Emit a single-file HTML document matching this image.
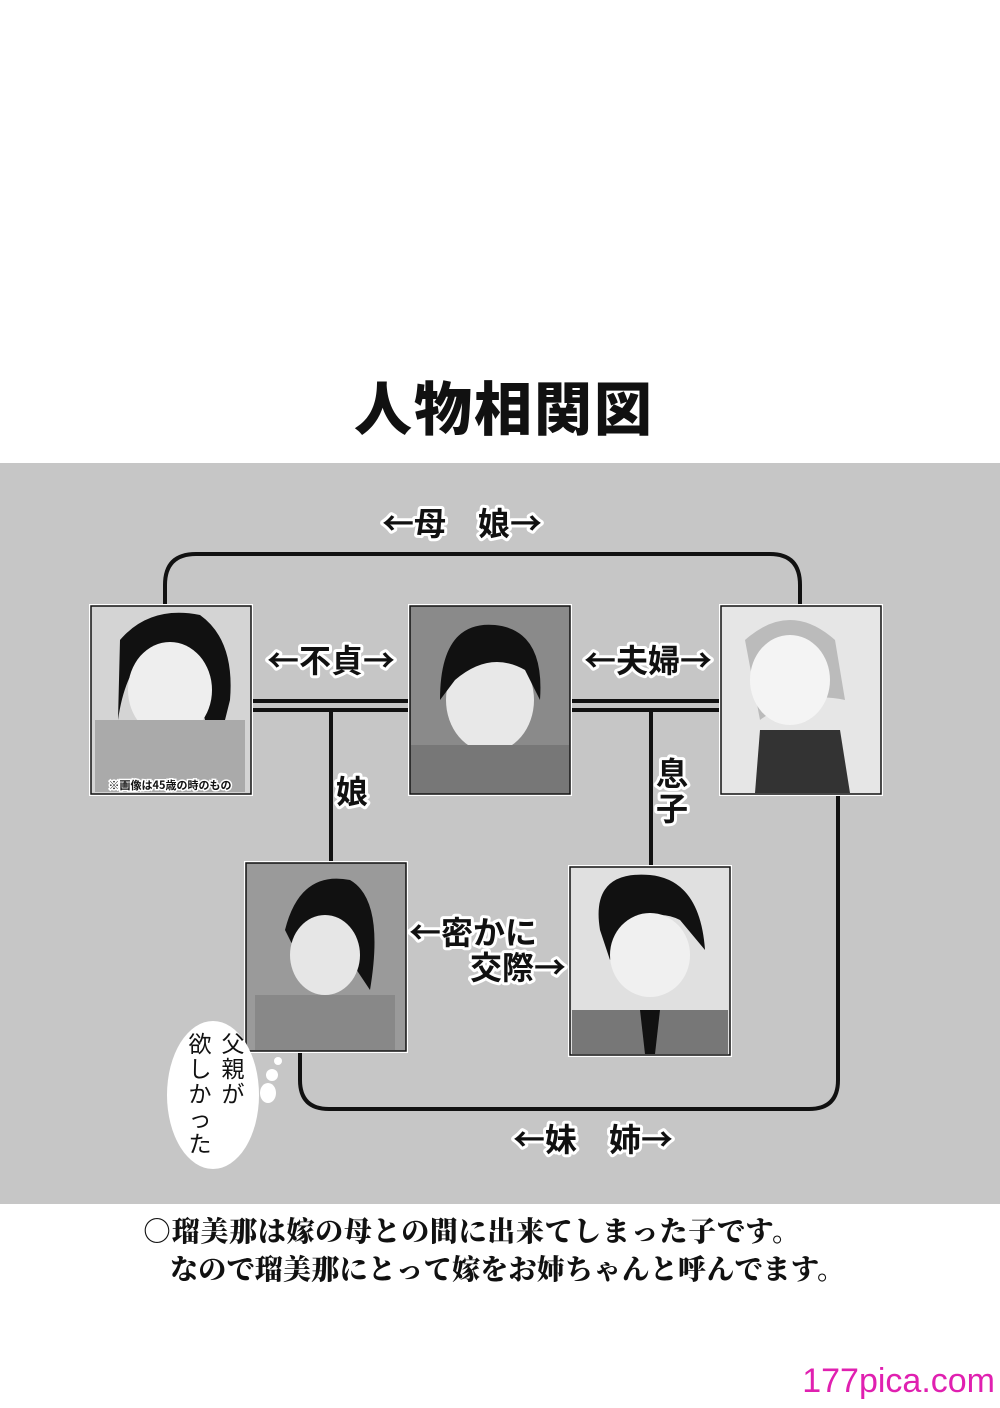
<!DOCTYPE html>
<html><head><meta charset="utf-8"><style>
html,body{margin:0;padding:0;background:#fff;}
svg{display:block;}
.lbl{font-family:"Noto Sans CJK JP","WenQuanYi Zen Hei",sans-serif;font-size:32px;font-weight:700;fill:#111;stroke:#fff;stroke-width:6px;paint-order:stroke;stroke-linejoin:round;}
</style></head><body>
<svg width="1000" height="1408" viewBox="0 0 1000 1408" xmlns="http://www.w3.org/2000/svg">
<rect width="1000" height="1408" fill="#fff"/>
<text x="504" y="430" text-anchor="middle" font-family="Noto Sans CJK JP,sans-serif" font-weight="900" font-size="58" fill="#111" letter-spacing="2">人物相関図</text>
<rect x="0" y="463" width="1000" height="741" fill="#c6c6c6"/>
<g fill="none" stroke="#111" stroke-width="4">
<path d="M165 605 V585 Q165 554 196 554 H770 Q800 554 800 585 V605"/>
<path d="M252 701 H409 M252 710 H409 M571 701 H720 M571 710 H720"/>
<path d="M331 710 V862 M651 710 V866"/>
<path d="M300 1052 V1080 Q300 1109 329 1109 H809 Q838 1109 838 1080 V795"/>
</g>
<g stroke="#fff" stroke-width="2">
<rect x="90" y="605" width="162" height="190" fill="#d4d4d4"/>
<rect x="409" y="605" width="162" height="190" fill="#8a8a8a"/>
<rect x="720" y="605" width="162" height="190" fill="#e6e6e6"/>
<rect x="245" y="862" width="162" height="190" fill="#9a9a9a"/>
<rect x="569" y="866" width="162" height="190" fill="#e0e0e0"/>
</g>
<g stroke="#111" stroke-width="1.5" fill="none">
<rect x="91" y="606" width="160" height="188"/><rect x="410" y="606" width="160" height="188"/><rect x="721" y="606" width="160" height="188"/><rect x="246" y="863" width="160" height="188"/><rect x="570" y="867" width="160" height="188"/>
</g>
<path d="M120 640 Q150 605 200 615 Q235 640 230 700 L215 760 L200 700 Q190 650 150 650 Q125 670 118 720 Z" fill="#111"/>
<ellipse cx="170" cy="690" rx="42" ry="48" fill="#eee"/>
<rect x="95" y="720" width="150" height="72" fill="#aaa"/>
<text x="170" y="789" text-anchor="middle" font-family="Noto Sans CJK JP,sans-serif" font-size="11" font-weight="700" fill="#111" stroke="#fff" stroke-width="3" paint-order="stroke">※画像は45歳の時のもの</text>
<ellipse cx="490" cy="700" rx="44" ry="52" fill="#e8e8e8"/>
<path d="M440 700 Q440 620 495 625 Q545 630 540 700 L525 670 Q490 650 455 680 Z" fill="#111"/>
<rect x="411" y="745" width="158" height="48" fill="#777"/>
<path d="M745 640 Q790 600 835 640 L845 700 Q800 690 760 720 Z" fill="#bbb"/>
<ellipse cx="790" cy="680" rx="40" ry="45" fill="#f4f4f4"/>
<path d="M760 730 L840 730 L850 793 L755 793 Z" fill="#333"/>
<path d="M285 930 Q300 870 350 880 Q385 900 370 990 L350 960 Q320 920 300 960 Z" fill="#111"/>
<ellipse cx="325" cy="955" rx="35" ry="40" fill="#e6e6e6"/>
<rect x="255" y="995" width="140" height="55" fill="#888"/>
<path d="M600 930 Q590 870 650 875 Q700 880 705 950 L680 920 Q640 900 610 960 Z" fill="#111"/>
<ellipse cx="650" cy="955" rx="40" ry="42" fill="#f0f0f0"/>
<path d="M572 1010 L728 1010 L728 1054 L572 1054 Z" fill="#777"/>
<path d="M640 1010 L660 1010 L655 1054 L645 1054 Z" fill="#111"/>
<text class="lbl" x="462" y="535" text-anchor="middle">←母　娘→</text>
<text class="lbl" x="331" y="672" text-anchor="middle">←不貞→</text>
<text class="lbl" x="648" y="672" text-anchor="middle">←夫婦→</text>
<text class="lbl" x="352" y="803" text-anchor="middle">娘</text>
<text class="lbl" x="672" y="785" text-anchor="middle">息</text>
<text class="lbl" x="672" y="820" text-anchor="middle">子</text>
<text class="lbl" x="409" y="944">←密かに</text>
<text class="lbl" x="470" y="979">交際→</text>
<text class="lbl" x="593" y="1151" text-anchor="middle">←妹　姉→</text>
<ellipse cx="213" cy="1095" rx="46" ry="74" fill="#fff"/>
<circle cx="278" cy="1061" r="4" fill="#fff"/><circle cx="272" cy="1075" r="6" fill="#fff"/><ellipse cx="268" cy="1093" rx="8" ry="10" fill="#fff"/>
<g font-family="Noto Sans CJK JP,sans-serif" font-size="23" fill="#111" text-anchor="middle">
<text x="233" y="1052">父</text><text x="233" y="1077">親</text><text x="233" y="1102">が</text>
<text x="200" y="1052">欲</text><text x="200" y="1077">し</text><text x="200" y="1102">か</text><text x="200" y="1127">っ</text><text x="200" y="1152">た</text>
</g>
<g font-family="Noto Serif CJK SC,Noto Sans CJK JP,serif" font-weight="900" font-size="28" fill="#111">
<text x="143" y="1241" textLength="657" lengthAdjust="spacing">○瑠美那は嫁の母との間に出来てしまった子です。</text>
<text x="170" y="1279" textLength="675" lengthAdjust="spacing">なので瑠美那にとって嫁をお姉ちゃんと呼んでます。</text>
</g>
<text x="995" y="1392" text-anchor="end" font-family="Liberation Sans,sans-serif" font-size="34" fill="#e020b0">177pica.com</text>
</svg>
</body></html>
